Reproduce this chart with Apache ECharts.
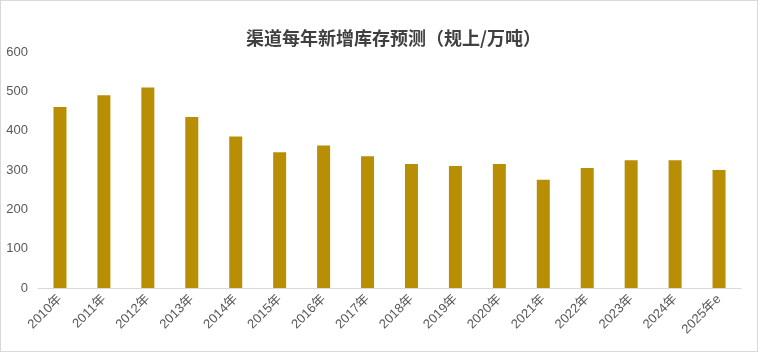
<!DOCTYPE html>
<html>
<head>
<meta charset="utf-8">
<script src="https://cdn.jsdelivr.net/npm/echarts@6/dist/echarts.min.js"></script>
<style>
  html, body { margin: 0; padding: 0; background: #fff; }
  #chart { width: 756px; height: 350px; border: 1px solid #d9d9d9; }
</style>
</head>
<body>
<div id="chart"></div>
<script>
  let years = ['2010年', '2011年', '2012年', '2013年', '2014年', '2015年', '2016年', '2017年',
    '2018年', '2019年', '2020年', '2021年', '2022年', '2023年', '2024年', '2025年e']
  let stockAdd = [460, 490, 510, 435, 385, 345, 362, 335, 315, 310, 315, 275, 305, 325, 325, 300]
  let yTicks = [0, 100, 200, 300, 400, 500, 600]

  let myChart = echarts.init(document.getElementById('chart'))
  let fontFamily = '"Microsoft YaHei", "Noto Sans CJK SC", sans-serif'
  let option = {
    animation: false,
    title: {
      text: '渠道每年新增库存预测（规上/万吨）',
      left: 240,
      top: 23,
      textStyle: {
        color: '#404040',
        fontSize: 18,
        fontWeight: 'bold',
        fontFamily: fontFamily
      }
    },
    grid: {
      left: 37,
      right: 16,
      top: 51,
      bottom: 63
    },
    xAxis: {
      type: 'category',
      data: years,
      axisTick: { show: false },
      axisLine: {
        lineStyle: { color: '#d9d9d9' }
      },
      axisLabel: {
        rotate: 45,
        interval: 0,
        color: '#595959',
        fontSize: 13,
        margin: 9,
        fontFamily: 'Arial, "Noto Sans CJK SC", sans-serif'
      }
    },
    yAxis: {
      type: 'value',
      min: yTicks[0],
      max: yTicks[yTicks.length - 1],
      interval: 100,
      axisLine: { show: false },
      axisTick: { show: false },
      splitLine: { show: false },
      axisLabel: {
        color: '#595959',
        fontSize: 13,
        margin: 10,
        fontFamily: 'Arial, sans-serif'
      }
    },
    series: [{
      type: 'bar',
      data: stockAdd,
      barWidth: 13,
      itemStyle: { color: '#b88f04' }
    }]
  }
  myChart.setOption(option)
</script>
</body>
</html>
